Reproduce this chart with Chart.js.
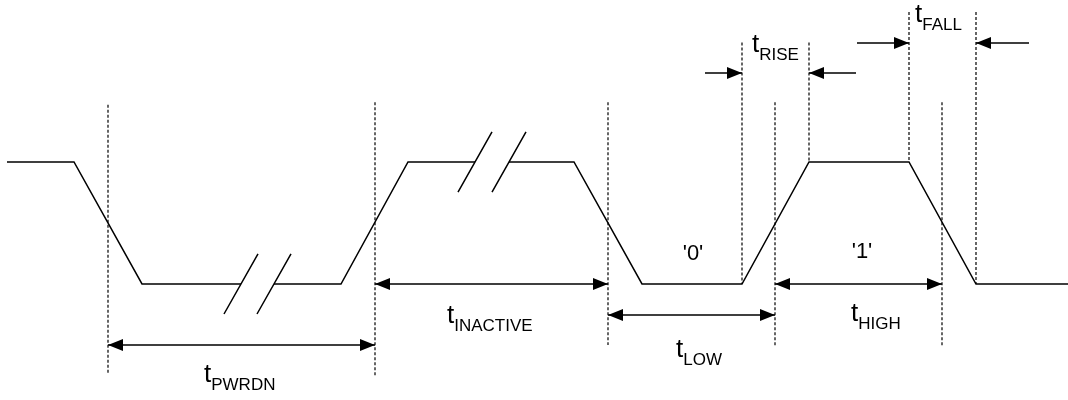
<!DOCTYPE html>
<html>
<head>
<meta charset="utf-8">
<script src="https://cdn.jsdelivr.net/npm/chart.js@4"></script>
<style>
  html, body { margin: 0; padding: 0; background: #fff; }
  #wrap { width: 1068px; height: 400px; }
</style>
</head>
<body>
<div id="wrap"><canvas id="timing"></canvas></div>
<script>
// Waveform: time (px-like units) and logic level, null = break gap
const waveTime = [7, 74, 142, 241, 257, 274, 341, 408, 475, 492, 509, 574, 642, 742, 809, 909, 976, 1068];
const waveLevel = [1, 1, 0, 0, null, 0, 0, 1, 1, null, 1, 1, 0, 0, 1, 1, 0, 0];

// "//" break marks centred on the waveform
const breakTime = [241, 274, 475, 509];
const breakLevel = [0, 0, 1, 1];

// dotted reference lines
const markerTime = [108, 375, 608, 742, 775, 809, 909, 942, 976];
const markerTop = [1.47, 1.49, 1.49, 1.98, 1.49, 1.98, 2.23, 1.49, 2.23];
const markerBottom = [-0.73, -0.75, -0.5, 0, -0.51, 1, 1, -0.51, 0];

// double arrow spans
const spanNames = ['PWRDN', 'INACTIVE', 'LOW', 'HIGH'];
const spanStart = [108, 375, 608, 775];
const spanEnd = [375, 608, 775, 942];
const spanLevel = [-0.5, 0, -0.254, 0];

// edge arrows (pointing inward from outside)
const edgeNames = ['RISE', 'FALL'];
const edgeStart = [742, 909];
const edgeEnd = [809, 976];
const edgeTailLeft = [705, 857];
const edgeTailRight = [856, 1029];
const edgeLevel = [1.73, 1.975];

// labels: t with subscript
const labelSub = ['PWRDN', 'INACTIVE', 'LOW', 'HIGH', 'RISE', 'FALL'];
const labelTime = [204, 447, 676, 851, 752, 915];
const labelLevel = [-0.80, -0.32, -0.60, -0.30, 1.90, 2.15];

// bit labels
const bitText = ["'0'", "'1'"];
const bitTime = [693, 862];
const bitLevel = [0.246, 0.262];

const FONT = '"Liberation Sans", Arial, sans-serif';

function pts(xs, ys) {
  return xs.map((x, i) => ({ x: x, y: ys[i] }));
}

const breakPts = [];
breakTime.forEach((t, i) => {
  breakPts.push({ x: t - 17, y: breakLevel[i] - 0.246 });
  breakPts.push({ x: t + 17, y: breakLevel[i] + 0.246 });
  breakPts.push({ x: t, y: null });
});

const markerPts = [];
markerTime.forEach((t, i) => {
  markerPts.push({ x: t, y: markerTop[i] });
  markerPts.push({ x: t, y: markerBottom[i] });
  markerPts.push({ x: t, y: null });
});

const shaftPts = [];
spanStart.forEach((s, i) => {
  shaftPts.push({ x: s, y: spanLevel[i] });
  shaftPts.push({ x: spanEnd[i], y: spanLevel[i] });
  shaftPts.push({ x: s, y: null });
});
edgeStart.forEach((s, i) => {
  shaftPts.push({ x: edgeTailLeft[i], y: edgeLevel[i] });
  shaftPts.push({ x: s, y: edgeLevel[i] });
  shaftPts.push({ x: s, y: null });
  shaftPts.push({ x: edgeEnd[i], y: edgeLevel[i] });
  shaftPts.push({ x: edgeTailRight[i], y: edgeLevel[i] });
  shaftPts.push({ x: edgeEnd[i], y: null });
});

function arrowHead(ctx, x, y, dir) {
  ctx.beginPath();
  ctx.moveTo(x, y);
  ctx.lineTo(x - dir * 15, y - 6);
  ctx.lineTo(x - dir * 15, y + 6);
  ctx.closePath();
  ctx.fill();
}

const annotations = {
  id: 'annotations',
  afterDatasetsDraw(chart) {
    const ctx = chart.ctx;
    const xs = chart.scales.x;
    const ys = chart.scales.y;
    ctx.save();
    ctx.fillStyle = '#000';

    // arrow heads
    spanStart.forEach((s, i) => {
      const y = ys.getPixelForValue(spanLevel[i]);
      arrowHead(ctx, xs.getPixelForValue(s), y, -1);
      arrowHead(ctx, xs.getPixelForValue(spanEnd[i]), y, 1);
    });
    edgeStart.forEach((s, i) => {
      const y = ys.getPixelForValue(edgeLevel[i]);
      arrowHead(ctx, xs.getPixelForValue(s), y, 1);
      arrowHead(ctx, xs.getPixelForValue(edgeEnd[i]), y, -1);
    });

    // t labels
    ctx.textBaseline = 'alphabetic';
    ctx.textAlign = 'left';
    labelSub.forEach((sub, i) => {
      const x = xs.getPixelForValue(labelTime[i]);
      const y = ys.getPixelForValue(labelLevel[i]);
      ctx.font = '26px ' + FONT;
      ctx.fillText('t', x, y);
      const w = ctx.measureText('t').width;
      ctx.font = '17px ' + FONT;
      ctx.fillText(sub, x + w, y + 8);
    });

    // bit labels
    ctx.textAlign = 'center';
    ctx.textBaseline = 'middle';
    ctx.font = '22px ' + FONT;
    bitText.forEach((txt, i) => {
      ctx.fillText(txt, xs.getPixelForValue(bitTime[i]), ys.getPixelForValue(bitLevel[i]));
    });
    ctx.restore();
  }
};

new Chart(document.getElementById('timing'), {
  type: 'scatter',
  data: {
    datasets: [
      {
        label: 'signal',
        data: pts(waveTime, waveLevel),
        showLine: true,
        borderColor: '#000',
        borderWidth: 1.5,
        pointRadius: 0,
        spanGaps: false
      },
      {
        label: 'breaks',
        data: breakPts,
        showLine: true,
        borderColor: '#000',
        borderWidth: 1.5,
        pointRadius: 0,
        spanGaps: false
      },
      {
        label: 'markers',
        data: markerPts,
        showLine: true,
        borderColor: '#000',
        borderWidth: 1.2,
        borderDash: [3, 2],
        pointRadius: 0,
        spanGaps: false
      },
      {
        label: 'arrows',
        data: shaftPts,
        showLine: true,
        borderColor: '#000',
        borderWidth: 1.5,
        pointRadius: 0,
        spanGaps: false
      }
    ]
  },
  options: {
    responsive: true,
    maintainAspectRatio: false,
    animation: false,
    layout: { padding: 0 },
    scales: {
      x: { type: 'linear', min: 0, max: 1068, display: false },
      y: { type: 'linear', min: -0.951, max: 2.328, display: false }
    },
    plugins: {
      legend: { display: false },
      tooltip: { enabled: false }
    },
    elements: { line: { tension: 0 } }
  },
  plugins: [annotations]
});
</script>
</body>
</html>
